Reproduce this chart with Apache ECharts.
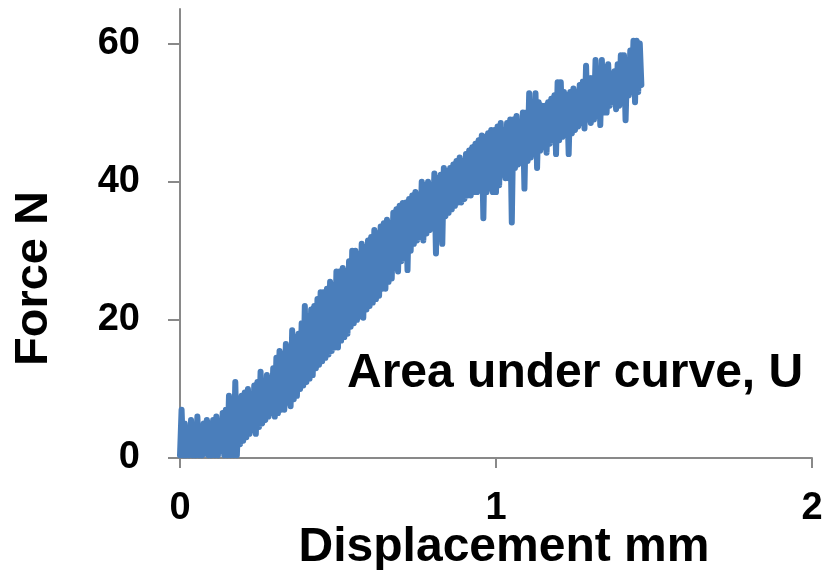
<!DOCTYPE html>
<html>
<head>
<meta charset="utf-8">
<script src="https://cdn.jsdelivr.net/npm/echarts@6/dist/echarts.min.js"></script>
<style>
html,body{margin:0;padding:0;background:#fff;}
#chart{width:825px;height:570px;}
</style>
</head>
<body>
<div id="chart"></div>
<script>
// Displacement (mm)
const xs = [
0.000,0.005,0.010,0.015,0.020,0.025,0.030,0.035,0.040,0.045,
0.050,0.055,0.060,0.065,0.070,0.075,0.080,0.085,0.090,0.095,
0.100,0.105,0.110,0.115,0.120,0.125,0.130,0.135,0.140,0.145,
0.150,0.155,0.160,0.165,0.170,0.175,0.180,0.185,0.190,0.195,
0.200,0.205,0.210,0.215,0.220,0.225,0.230,0.235,0.240,0.245,
0.250,0.255,0.260,0.265,0.270,0.275,0.280,0.285,0.290,0.295,
0.300,0.305,0.310,0.315,0.320,0.325,0.330,0.335,0.340,0.345,
0.350,0.355,0.360,0.365,0.370,0.375,0.380,0.385,0.390,0.395,
0.400,0.405,0.410,0.415,0.420,0.425,0.430,0.435,0.440,0.445,
0.450,0.455,0.460,0.465,0.470,0.475,0.480,0.485,0.490,0.495,
0.500,0.505,0.510,0.515,0.520,0.525,0.530,0.535,0.540,0.545,
0.550,0.555,0.560,0.565,0.570,0.575,0.580,0.585,0.590,0.595,
0.600,0.605,0.610,0.615,0.620,0.625,0.630,0.635,0.640,0.645,
0.650,0.655,0.660,0.665,0.670,0.675,0.680,0.685,0.690,0.695,
0.700,0.705,0.710,0.715,0.720,0.725,0.730,0.735,0.740,0.745,
0.750,0.755,0.760,0.765,0.770,0.775,0.780,0.785,0.790,0.795,
0.800,0.805,0.810,0.815,0.820,0.825,0.830,0.835,0.840,0.845,
0.850,0.855,0.860,0.865,0.870,0.875,0.880,0.885,0.890,0.895,
0.900,0.905,0.910,0.915,0.920,0.925,0.930,0.935,0.940,0.945,
0.950,0.955,0.960,0.965,0.970,0.975,0.980,0.985,0.990,0.995,
1.000,1.005,1.010,1.015,1.020,1.025,1.030,1.035,1.040,1.045,
1.050,1.055,1.060,1.065,1.070,1.075,1.080,1.085,1.090,1.095,
1.100,1.105,1.110,1.115,1.120,1.125,1.130,1.135,1.140,1.145,
1.150,1.155,1.160,1.165,1.170,1.175,1.180,1.185,1.190,1.195,
1.200,1.205,1.210,1.215,1.220,1.225,1.230,1.235,1.240,1.245,
1.250,1.255,1.260,1.265,1.270,1.275,1.280,1.285,1.290,1.295,
1.300,1.305,1.310,1.315,1.320,1.325,1.330,1.335,1.340,1.345,
1.350,1.355,1.360,1.365,1.370,1.375,1.380,1.385,1.390,1.395,
1.400,1.405,1.410,1.415,1.420,1.425,1.430,1.435,1.440,1.445,
1.450,1.455,1.460
];
// Force (N)
const ys = [
0.4,7,0.4,5,0.4,4,0.4,5.5,0.4,4.5,
0.4,6,0.4,4.5,0.4,5,0.6,5.5,0.4,5,
0.4,5.5,0.4,6,0.4,5,1,6.5,0.4,7,
0.4,9,0.4,8,0.4,11,0.4,7,2,9,
2.5,9.5,3,10,3.5,8.5,4,10.5,3.5,11,
4.5,12.5,5,11,5.5,12,6,11.5,6.5,13,
6,14.5,6.5,15.5,7,15,7,16.5,8,16,
7.5,18.5,8.5,17.5,9,18,10,19.5,10.5,22,
11,20.5,11.5,21.5,12,22,13,23,13.5,24,
14,24,14.5,24.5,15,25.5,15.5,25,16,27,
16,27,17,27.5,17.5,27,18,28.5,19,30,
19.5,30,20,29.5,20.5,31,20.3,30.5,21.5,31.5,
22,32,22.5,33,23,32.5,23.5,33.5,24.5,34,
24.5,34.5,25.5,34,26,35.5,27.5,36,27,36.5,
28.5,36.9,29,37,27.2,37.5,30,38,31,38.5,
31.5,38,32,40,31.5,39.5,32.5,40,33,39,
33.5,41.2,29.6,40.5,34.5,41,31,42,35,41.5,
35.5,42,36,42.5,36.5,43,37,43.5,37,43,
37.5,44,38,44.5,38,45,38.5,45.5,38.5,46,
39,46.7,34.7,46.5,38.5,47,39,47.5,38.5,47.5,
38.5,48,39.5,48.5,41,47.5,40.5,48.5,40.5,49,
34.1,49,42,49.5,42.5,48.5,43,50,39,50,
43,52.8,43.5,51,44,52.8,42,51.5,44.5,51,
45,51,44.2,51.5,45.5,52,46,52.5,44,54.4,
46,54.4,46.5,53,47,52.5,44,53,47,53.5,
47.5,53,48,54,48.5,54.5,47.7,56.8,49,55,
48.5,55,49,57.6,49.5,56,48.2,57.6,50,56.5,
50,57,51,55.5,51.5,56,50.5,57,51,58.3,
52,58.3,48.9,57,52.5,59,53,60.4,51.5,60.4,
53,60,54
];
const xTickValues = [0, 1, 2];
const yTickValues = [0, 20, 40, 60];
const xTitle = 'Displacement mm';
const yTitle = 'Force N';
const note = 'Area under curve, U';

const FONT = '"Liberation Sans", Arial, sans-serif';
const AXIS = '#898989';
const data = xs.map((x, i) => [x, ys[i]]);

const chart = echarts.init(document.getElementById('chart'), null, {renderer: 'canvas'});
chart.setOption({
  animation: false,
  backgroundColor: '#ffffff',
  grid: {left: 180, right: 13, top: 9, bottom: 112, containLabel: false, outerBoundsMode: 'none'},
  xAxis: {
    type: 'value', min: 0, max: 2, interval: 1,
    name: xTitle, nameLocation: 'middle', nameGap: 66, nameMoveOverlap: false,
    nameTextStyle: {fontFamily: FONT, fontWeight: 'bold', fontSize: 48, color: '#000', padding: [0, 0, 0, 16]},
    axisLine: {show: true, onZero: false, lineStyle: {color: AXIS, width: 2}},
    axisTick: {show: true, inside: false, length: 10, customValues: xTickValues, lineStyle: {color: AXIS, width: 2}},
    axisLabel: {show: true, customValues: xTickValues, fontFamily: FONT, fontWeight: 'bold', fontSize: 38, color: '#000', margin: 32, showMinLabel: true, showMaxLabel: true},
    splitLine: {show: false}
  },
  yAxis: {
    type: 'value', min: 0, max: 65, interval: 20,
    name: yTitle, nameLocation: 'middle', nameRotate: 90, nameGap: 122, nameMoveOverlap: false,
    nameTextStyle: {fontFamily: FONT, fontWeight: 'bold', fontSize: 47, color: '#000', padding: [0, 90, 0, 0]},
    axisLine: {show: true, onZero: false, lineStyle: {color: AXIS, width: 2}},
    axisTick: {show: true, inside: false, length: 12, customValues: yTickValues, lineStyle: {color: AXIS, width: 2}},
    axisLabel: {show: true, customValues: yTickValues, fontFamily: FONT, fontWeight: 'bold', fontSize: 38, color: '#000', margin: 40},
    splitLine: {show: false}
  },
  graphic: [{
    type: 'text', left: 347, top: 350, z: 10,
    style: {text: note, font: 'bold 48px ' + FONT, fill: '#000'}
  }],
  series: [{
    type: 'line', data: data, showSymbol: false, symbol: 'none', clip: true,
    lineStyle: {color: '#4a7ebb', width: 6, cap: 'round', join: 'round'},
    emphasis: {disabled: true}
  }]
});
</script>
</body>
</html>
